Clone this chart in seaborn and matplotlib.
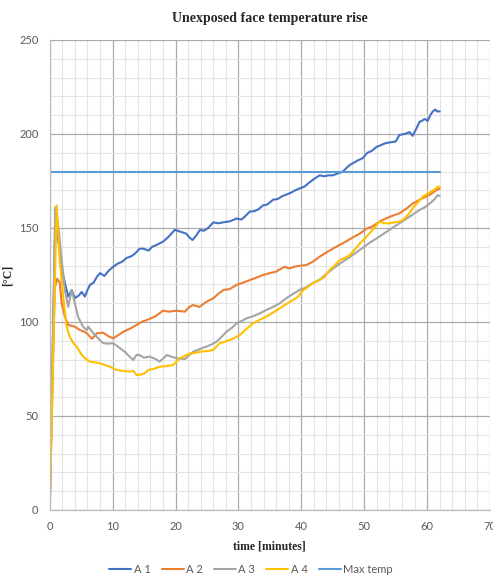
import matplotlib
matplotlib.use("Agg")
import matplotlib.pyplot as plt
import seaborn as sns
import pandas as pd
from matplotlib.ticker import MultipleLocator

# %% Data
a1_time = [0, 0.9, 1.3, 1.9, 2.4, 2.95, 3.5, 4.0, 4.6, 5.1,
           5.6, 6.0, 6.4, 7.0, 7.5, 8.0, 8.7, 9.3, 10.1, 10.8,
           11.5, 12.2, 13.0, 13.6, 14.3, 14.9, 15.7, 16.3, 17.0, 18.0,
           18.8, 19.9, 20.8, 21.7, 22.2, 22.7, 23.3, 23.9, 24.5, 25.2,
           26.0, 26.8, 27.6, 28.6, 29.7, 30.5, 31.0, 31.8, 32.6, 33.2,
           33.9, 34.6, 35.5, 36.3, 37.0, 37.8, 38.5, 39.0, 39.7, 40.5,
           41.2, 42.0, 42.9, 43.6, 44.3, 45.0, 45.8, 46.6, 47.2, 47.7,
           48.5, 49.0, 49.7, 50.5, 51.2, 51.9, 52.6, 53.3, 54.0, 55.0,
           55.6, 56.4, 57.2, 57.7, 58.3, 58.8, 59.2, 59.6, 60.1, 60.5,
           60.9, 61.3, 61.6, 62.0]
a1_temp = [0, 160, 145, 129, 121, 113.5, 117, 112.7, 114, 116,
           113.5, 117, 119.7, 121, 124, 126, 124.5, 127, 129.4, 131,
           132, 134, 135, 136.5, 139, 139, 138, 140, 141, 142.7,
           145, 149, 148, 147, 145, 143.6, 146, 149, 148.5, 150,
           153, 152.5, 153, 153.5, 155, 154.5, 156, 158.7, 159, 160,
           162, 162.5, 165, 165.5, 167, 168, 169, 170, 171, 172,
           174, 176, 178, 177.5, 178, 178, 179, 180, 182, 183.5,
           185, 186, 187, 190, 191, 193, 194, 195, 195.5, 196,
           199.5, 200, 201, 199, 203, 206.5, 207, 208, 207, 210,
           212, 213, 212, 212]

a2_time = [0, 0.8, 1.2, 1.6, 1.9, 2.4, 2.95, 3.5, 4.0, 4.8,
           5.4, 5.9, 6.7, 7.5, 8.5, 9.3, 10.1, 10.9, 11.7, 12.8,
           13.8, 14.6, 15.7, 16.8, 18.0, 19.0, 20.1, 21.5, 22.2, 22.8,
           23.8, 24.8, 26.0, 26.8, 27.6, 28.6, 29.7, 30.8, 31.8, 32.8,
           33.9, 35.0, 36.0, 37.3, 38.1, 39.0, 40.0, 40.8, 41.8, 42.9,
           44.0, 45.0, 46.1, 47.2, 48.2, 49.3, 50.3, 51.4, 52.4, 53.4,
           54.5, 55.6, 56.6, 57.7, 58.8, 59.8, 60.6, 61.4, 62.0]
a2_temp = [0, 118, 123, 121, 110, 103, 98.4, 98, 97.5, 95.7,
           95, 94, 91, 94, 94.3, 92.5, 91.3, 93, 94.8, 96.5,
           98.4, 100, 101.4, 103, 106, 105.5, 106, 105.5, 108, 109,
           108, 110.5, 112.6, 115, 117, 117.5, 119.7, 121, 122.3, 123.5,
           125, 126, 126.8, 129.4, 128.5, 129.5, 130, 130.3, 132, 134.7,
           137, 139, 141, 143, 145, 147, 149.5, 151, 153.4, 155,
           156.5, 157.8, 160, 163, 165, 166.7, 168, 170, 171]

a3_time = [0, 0.9, 1.4, 1.9, 2.4, 2.95, 3.5, 4.0, 4.5, 5.3,
           5.9, 6.1, 7.2, 8.5, 9.3, 10.1, 11.2, 12.0, 12.7, 13.3,
           13.8, 14.3, 15.0, 15.9, 16.7, 17.5, 18.6, 19.4, 20.2, 21.5,
           22.8, 23.8, 24.9, 25.7, 26.5, 27.3, 28.1, 29.0, 29.7, 30.5,
           31.3, 32.3, 33.4, 34.5, 35.5, 36.6, 37.6, 38.7, 39.7, 40.8,
           41.8, 42.9, 44.5, 46.1, 47.7, 49.3, 50.8, 52.4, 54.0, 55.6,
           57.2, 58.8, 59.6, 60.4, 61.1, 61.7, 62.0]
a3_temp = [0, 161, 150, 133, 117, 108, 117, 110, 102.8, 97.5,
           95.7, 97.5, 93, 88.7, 88.5, 88.7, 86, 84, 81.6, 79.8,
           82.5, 82.4, 81, 81.6, 80.5, 78.9, 82.4, 81.5, 80.7, 80.3,
           84.2, 85.5, 86.9, 88, 89.5, 92, 94.8, 97, 99.3, 100.5,
           102, 103, 104.6, 106.5, 108, 110, 112.6, 115, 117, 118.5,
           120.6, 122.5, 127, 131, 134.5, 138.3, 142, 145.4, 149, 152.5,
           156, 159.6, 161, 163, 165, 167.5, 167]

a4_time = [0, 1.1, 1.6, 2.2, 2.7, 3.2, 3.7, 4.3, 4.8, 5.3,
           5.9, 6.4, 7.2, 8.0, 8.8, 9.6, 10.6, 11.6, 12.7, 13.3,
           13.8, 14.5, 15.1, 15.7, 16.5, 17.5, 18.5, 19.6, 20.7, 21.5,
           22.3, 23.1, 23.9, 25.0, 26.0, 27.0, 27.8, 28.6, 29.4, 30.2,
           31.2, 32.3, 33.3, 34.4, 35.5, 36.6, 37.6, 38.7, 39.5, 40.3,
           41.0, 41.8, 42.9, 43.7, 44.5, 45.3, 46.1, 46.9, 47.7, 48.5,
           49.3, 50.0, 50.8, 51.6, 52.4, 53.2, 54.0, 54.8, 55.6, 56.2,
           56.7, 57.2, 57.7, 58.5, 59.3, 60.0, 60.6, 61.2, 61.7, 62.0]
a4_temp = [0, 162, 133, 111.7, 97.5, 92, 89, 86.9, 84, 81.6,
           80, 78.9, 78.5, 78, 77, 76.2, 74.5, 74, 73.6, 74,
           71.8, 72, 72.7, 74.5, 75, 76.2, 76.5, 77.1, 80.7, 82,
           83.3, 83.5, 84.2, 84.5, 85.1, 88.7, 89.5, 90.4, 91.5, 93,
           96, 99.3, 101, 102.8, 105, 107.3, 109.5, 111.7, 113.5, 117,
           118.5, 120.6, 122.3, 124, 127.7, 130, 133, 134, 135.6, 138.5,
           141.8, 144, 147, 150, 153.4, 152.5, 152.5, 153, 153.4, 154.5,
           156, 158, 160.5, 163.5, 166.7, 168, 169.3, 170.5, 172, 172]

max_time = [0, 62]
max_temp = [180, 180]

series_names = ["A 1", "A 2", "A 3", "A 4", "Max temp"]
series_colors = ["#4472C4", "#ED7D31", "#A5A5A5", "#FFC000", "#5B9BD5"]

# %% Long-form table for seaborn
frames = []
for name, t, y in zip(series_names,
                      [a1_time, a2_time, a3_time, a4_time, max_time],
                      [a1_temp, a2_temp, a3_temp, a4_temp, max_temp]):
    frames.append(pd.DataFrame({"time": t, "temp": y, "series": name}))
df = pd.concat(frames, ignore_index=True)

# %% Style
sns.set_style("white")
plt.rcParams['font.family'] = ['Lato', 'DejaVu Sans']

fig = plt.figure(figsize=(4.93, 5.76), dpi=100)
ax = fig.add_axes([0.1008, 0.1146, 0.8932, 0.816])

sns.lineplot(data=df, x="time", y="temp", hue="series", hue_order=series_names,
             palette=series_colors, estimator=None, sort=False, linewidth=1.5, ax=ax)

ax.set_xlim(0, 70)
ax.set_ylim(0, 250)
ax.xaxis.set_major_locator(MultipleLocator(10))
ax.xaxis.set_minor_locator(MultipleLocator(2))
ax.yaxis.set_major_locator(MultipleLocator(50))
ax.yaxis.set_minor_locator(MultipleLocator(10))
ax.grid(which="major", color="#ABABAB", linewidth=0.9)
ax.grid(which="minor", color="#E4E4E4", linewidth=0.8)
ax.set_axisbelow(True)
for s in ["top", "right"]:
    ax.spines[s].set_visible(False)
for s in ["left", "bottom"]:
    ax.spines[s].set_color("#BFBFBF")
    ax.spines[s].set_linewidth(0.9)
ax.tick_params(which="major", length=4, width=0.8, color="#BFBFBF",
               labelsize=8, labelcolor="#595959", pad=4)
ax.tick_params(which="minor", length=0)

serif = {"family": "Liberation Serif", "weight": "bold"}
ax.set_title("Unexposed face temperature rise", fontdict=serif, fontsize=10, pad=13)
ax.set_xlabel("time [minutes]", fontdict=serif, fontsize=8.5, labelpad=6)
ax.set_ylabel("[°C]", fontdict=serif, fontsize=8.5)
ax.yaxis.set_label_coords(-0.081, 0.5)

leg = ax.legend(loc="center", bbox_to_anchor=(0.457, -0.126), ncol=5, frameon=False,
                fontsize=8, handlelength=2.0, handletextpad=0.2, columnspacing=1.0)
for text in leg.get_texts():
    text.set_color("#595959")

fig.savefig("out.png", dpi=100)
